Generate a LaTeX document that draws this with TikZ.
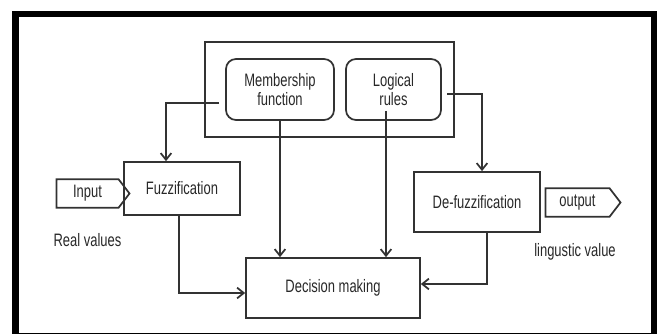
\documentclass[tikz,border=0pt]{standalone}
\usepackage{fontspec}
\setmainfont{Liberation Sans}[FakeStretch=0.72]
\usetikzlibrary{arrows.meta}
\usetikzlibrary{shapes.symbols}

\definecolor{lnclr}{RGB}{50,50,50}
\definecolor{txclr}{RGB}{40,40,40}

\begin{document}
\begin{tikzpicture}[x=0.75pt,y=0.75pt,yscale=-1,xscale=1,
  blk/.style={draw=lnclr, line width=1.3pt, text=txclr, inner sep=0.75pt, align=center, font=\fontsize{13.5}{14}\selectfont},
  rblk/.style={blk, rounded corners=7.5pt},
  tag/.style={blk, signal, signal to=east, signal pointer angle=105},
  lbl/.style={text=txclr, inner sep=0.75pt, font=\fontsize{13.5}{14}\selectfont},
  arr/.style={draw=lnclr, line width=1.3pt, -{Straight Barb[length=5pt,width=8pt]}}]
\useasboundingbox (0,0) rectangle (657,334);

%Outer frame
\draw [line width=5pt] (15.5,14) rectangle (654,336);

%Shape: Rectangle (group of the knowledge base)
\node [blk, minimum width=186.75pt, minimum height=71.25pt] (grp) at (329.5,89.5) {};
%Rounded boxes
\node [rblk, minimum width=81pt, minimum height=45.75pt] (memb) at (280,89.5) {Membership\\function};
\node [rblk, minimum width=71.25pt, minimum height=45.75pt] (logic) at (393.5,89.5) {Logical\\rules};

%Blocks
\node [blk, minimum width=87pt, minimum height=39.75pt] (fuzz) at (182,188.5) {Fuzzification};
\node [blk, minimum width=94.5pt, minimum height=45pt] (defuzz) at (477,202) {De-fuzzification};
\node [blk, minimum width=130.5pt, minimum height=45pt] (dec) at (333,288) {Decision making};

%Input / output tags
\node [tag, minimum width=54.75pt, minimum height=21.5pt] (inp) at (87.5,193.5) {Input};
\node [tag, minimum width=56.25pt, minimum height=21.5pt] (outp) at (577.5,202.5) {output};

% Text Node
\node [lbl] (realv) at (87.5,240) {Real values};
% Text Node
\node [lbl] (lingv) at (575,252) {lingustic value};

%Connectors
\coordinate (mfL) at (219,103);
\coordinate (mfk) at (166,103);
\draw [arr] (mfL) -- (mfk) -- (mfk |- fuzz.north);
\coordinate (lrR) at (447,94);
\coordinate (lrk) at (482,94);
\draw [arr] (lrR) -- (lrk) -- (lrk |- defuzz.north);
\draw [arr] (memb.south) -- (memb.south |- dec.north);
\coordinate (lrIn) at (386,111);
\draw [arr] (lrIn) -- (lrIn |- dec.north);
\coordinate (fzk) at (179,293);
\draw [arr] (fzk |- fuzz.south) -- (fzk) -- (fzk -| dec.west);
\coordinate (dfk) at (487,284);
\draw [arr] (dfk |- defuzz.south) -- (dfk) -- (dfk -| dec.east);

\end{tikzpicture}
\end{document}
